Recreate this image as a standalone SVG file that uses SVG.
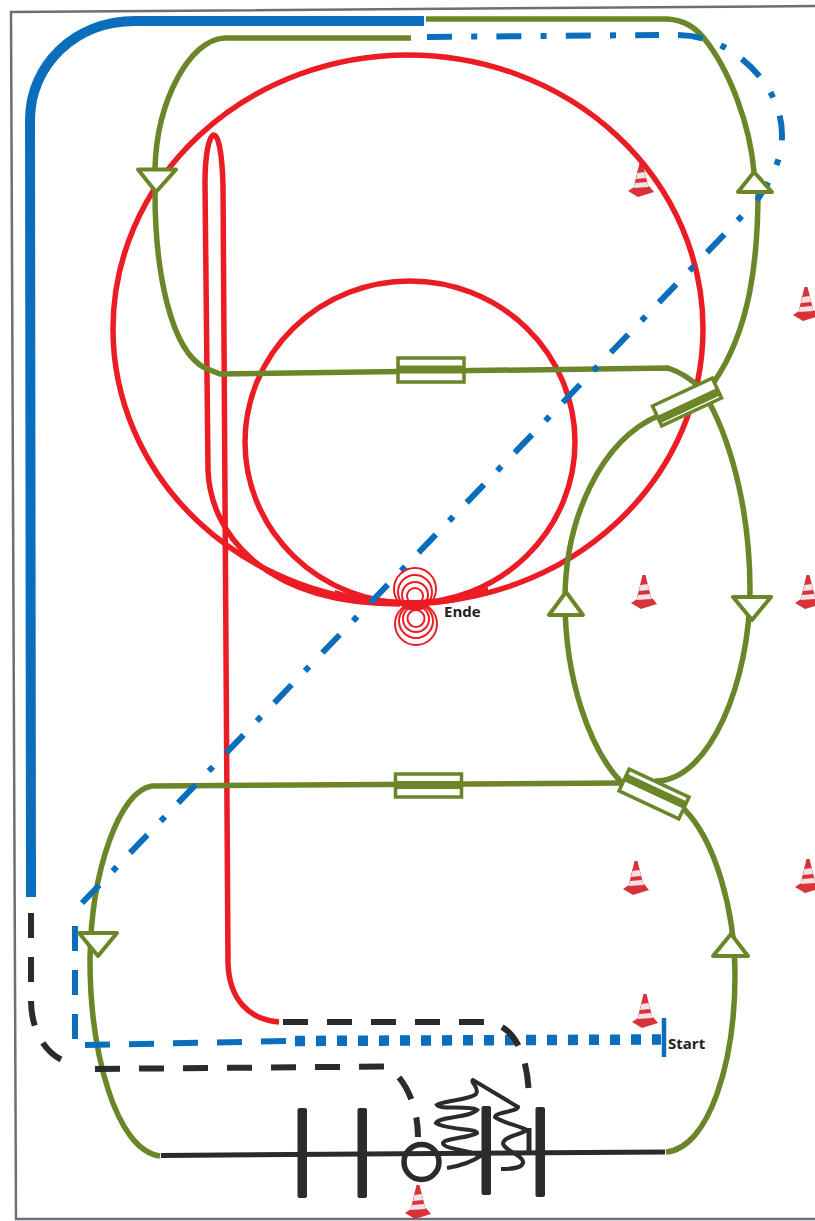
<svg xmlns="http://www.w3.org/2000/svg" width="815" height="1221" viewBox="0 0 815 1221">
<style>
.g{fill:none;stroke:#6a8628;stroke-width:5.5}
.r{fill:none;stroke:#ec1c24;stroke-width:5.5}
.k{fill:none;stroke:#2b2b2b;stroke-width:6}
.b{fill:none;stroke:#0a6ebd;stroke-width:6}
.dd{stroke-dasharray:25 19.2 6 19.2}
.da{stroke-dasharray:25 19}
.tri{fill:#fff;stroke:#6a8628;stroke-width:4;stroke-linejoin:round}
.sw{fill:#fff;stroke:#6a8628;stroke-width:3.5}
.bd{fill:none;stroke:#6a8628;stroke-width:8}
.e{fill:none;stroke:#ec1c24;stroke-width:2}
.tie{fill:#2b2b2b}
text{font-family:"Open Sans","Liberation Sans",sans-serif;font-weight:700;font-size:15px;fill:#222}
</style>
<defs>
<g id="cone">
<path d="M-13 11 L-7 7 L8 6 L13 12 L-3 17Z" fill="#d8333a"/>
<path d="M-1.5 -17 L1.5 -17 L8 9 L-8 10Z" fill="#d8333a"/>
<path d="M-3.5 -7 L3.5 -8 L5 -2 L-5 -1Z" fill="#f1e4e6"/>
<path d="M-6 3 L6 2 L7.5 7 L-7.5 8Z" fill="#f1e4e6"/>
</g>
</defs>
<path id="frame" d="M815 6 L11 12 L16 1219 H815" fill="none" stroke="#6e6e78" stroke-width="2.5"/>
<g id="cones">
<use href="#cone" x="641" y="180"/><use href="#cone" x="806" y="304"/>
<use href="#cone" x="644" y="592"/><use href="#cone" x="808" y="592"/>
<use href="#cone" x="636" y="878"/><use href="#cone" x="808" y="876"/>
<use href="#cone" x="645" y="1011"/><use href="#cone" x="418" y="1202"/>
</g>
<g id="connectors">
<path class="r" d="M279 1022 C250 1020 229 1000 228 963 L223 185 C222 150 218 135 214 135 C209 135 205 155 205 183 L208 470 C210 530 260 604 400 604"/>
<ellipse class="r" cx="408" cy="329" rx="295" ry="274"/>
<ellipse class="r" cx="410" cy="442" rx="165" ry="161"/>
<path fill="#ec1c24" d="M335 590 C360 598 390 600 416 600 C440 600 465 597 488 587 L488 592 C465 602 440 606 416 606 C390 606 360 602 335 596Z"/>
<path class="g" d="M411 38 H225 C190 39 157 100 155 168 M155 192 C155 270 170 350 205 368 L220 374 L668 368 C680 372 690 378 700 388"/>
<path class="g" d="M426 19 H667 C685 20 695 28 703 37 C730 70 750 125 754 172 M758 192 C758 260 750 330 714 382"/>
<path class="g" d="M660 415 C600 440 565 520 565 600 C565 680 590 750 622 783"/>
<path class="g" d="M708 400 C735 450 750 520 750 590 C750 680 710 782 655 781"/>
<path class="g" d="M622 783 L152 786 C120 790 91 870 90 960 C90 1050 115 1150 160 1156"/>
<path class="g" d="M684 809 C715 840 735 910 735 975 C735 1060 710 1148 666 1152"/>
<path d="M31 897 L30 120 C30 65 75 21 135 21 H424" fill="none" stroke="#0a6ebd" stroke-width="10"/>
<path class="b dd" d="M427 37 L659 35"/>
<path class="b dd" d="M678 35 C695 35 710 40 722 46 C745 57 782 90 782 135 C782 155 775 175 757 200"/>
<path class="b dd" d="M82 903 L742 216"/>
<path class="b da" d="M75 926 V1040"/>
<path class="b da" d="M85 1045 L287 1041"/>
<path class="b" style="stroke-width:10.5;stroke-dasharray:10 11" d="M295 1041 L661 1039.5"/>
<path class="b" style="stroke-width:4.5" d="M664 1018 V1057"/>
<path class="k da" d="M31 913 V1000 C31 1035 50 1062 77 1064 M95 1069 L385 1066.5 C400 1072 418 1100 418 1137"/>
<path class="k da" d="M283 1022 H484 C505 1022 530 1040 529 1107"/>
<path class="k" style="stroke-width:5" d="M529 1128 V1152"/>
<path class="k" style="stroke-width:5" d="M161 1155.5 L665 1152"/>
<path class="k" style="stroke-width:4" d="M447 1168 C460 1166 472 1162 482 1155 L460 1150 C450 1148 443 1146 443 1143 C445 1138 470 1138 477 1133 C477 1128 445 1130 436 1123 C440 1116 470 1118 477 1110 C470 1105 440 1110 437 1105 C445 1100 470 1100 476 1094 C480 1088 470 1082 473 1080 L518 1107 C517 1112 495 1112 495 1117 C500 1122 520 1126 527 1130 C520 1135 505 1136 503 1143 C503 1150 525 1156 523 1163 C521 1169 510 1169 501 1169"/>
</g>
<g id="tie1"><rect class="tie" x="297.5" y="1108" width="9.5" height="90" rx="2"/></g>
<g id="tie2"><rect class="tie" x="357.5" y="1108" width="9.5" height="90" rx="2"/></g>
<g id="tie3"><rect class="tie" x="481.5" y="1106" width="9.5" height="89" rx="2"/></g>
<g id="tie4"><rect class="tie" x="535.5" y="1107" width="9.5" height="90" rx="2"/></g>
<g id="ring"><circle cx="421.5" cy="1162" r="17.5" fill="none" stroke="#2b2b2b" stroke-width="5.5"/></g>
<g id="ende">
<circle class="e" cx="415" cy="589" r="21"/><circle class="e" cx="415" cy="592" r="17"/><circle class="e" cx="415" cy="595" r="13"/><circle class="e" cx="415" cy="596" r="8"/>
<circle class="e" cx="416" cy="624" r="21"/><circle class="e" cx="416" cy="621" r="17"/><circle class="e" cx="416" cy="619" r="13"/><circle class="e" cx="416" cy="618.500" r="8.500"/>
<text x="444" y="617">Ende</text>
</g>
<g id="sw1"><rect class="sw" x="398" y="358" width="66" height="24"/><path class="bd" d="M398 369.5 H464"/></g>
<g id="sw2"><rect class="sw" x="395.500" y="774" width="66" height="23"/><path class="bd" d="M395.500 785 H461.500"/></g>
<g id="sw3" transform="rotate(-25 687 402)"><rect class="sw" x="654" y="391" width="66" height="22"/><path class="bd" d="M654 406 H720"/></g>
<g id="sw4" transform="rotate(25 654 794)"><rect class="sw" x="621" y="782" width="66" height="24"/><path class="bd" d="M621 791 H687"/></g>
<g id="t1"><path class="tri" d="M138 169.500 H176 L156 192Z"/></g>
<g id="t2"><path class="tri" d="M738 192 H772 L754 172Z"/></g>
<g id="t3"><path class="tri" d="M549 615 H583 L566 592Z"/></g>
<g id="t4"><path class="tri" d="M733 597 H771 L752 620Z"/></g>
<g id="t5"><path class="tri" d="M79 933 H117 L98 956Z"/></g>
<g id="t6"><path class="tri" d="M713 956 H748 L731 934Z"/></g>
<text id="start" x="668" y="1049">Start</text>
</svg>
